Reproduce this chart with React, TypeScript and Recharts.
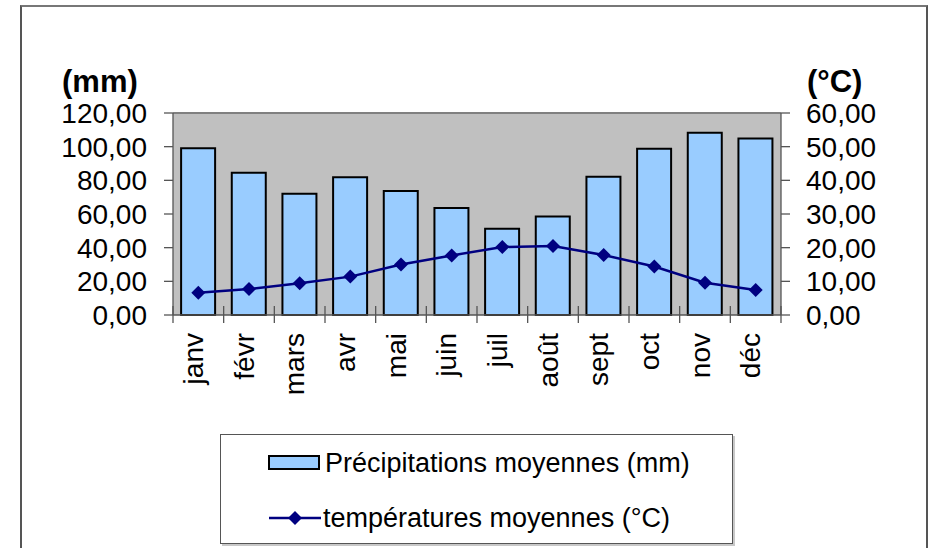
import { ComposedChart, Bar, Line, XAxis, YAxis, CartesianGrid, ReferenceLine } from 'recharts';

const months = ['janv', 'févr', 'mars', 'avr', 'mai', 'juin', 'juil', 'août', 'sept', 'oct', 'nov', 'déc'];
const precipitations = [99, 84.5, 72, 81.8, 73.7, 63.6, 51.3, 58.5, 82.2, 98.8, 108.3, 104.8];
const temperatures = [6.6, 7.7, 9.4, 11.4, 15.0, 17.7, 20.2, 20.5, 17.8, 14.4, 9.6, 7.4];
const mmTicks = [0, 20, 40, 60, 80, 100, 120];
const degTicks = [0, 10, 20, 30, 40, 50, 60];

const data = months.map((m, i) => ({ month: m, precip: precipitations[i], temp: temperatures[i] }));

const W = 928;
const H = 548;
const margin = { top: 113, right: 7, bottom: 133, left: 13 };
const leftAxisW = 160;
const rightAxisW = 140;
const plotW = W - margin.left - margin.right - leftAxisW - rightAxisW;
const band = plotW / months.length;

const FONT = '"Liberation Sans", Arial, sans-serif';
const fmt = (v: number) => v.toFixed(2).replace('.', ',');

const Diamond = (props: any) => {
  const { cx, cy } = props;
  if (cx == null || cy == null) return null;
  const r = 7;
  return <polygon points={`${cx},${cy - r} ${cx + r},${cy} ${cx},${cy + r} ${cx - r},${cy}`} fill="#000080" />;
};

const MonthTick = (props: any) => {
  const { x, y, payload, index } = props;
  const last = index === months.length - 1;
  const tx = x - 5;
  return (
    <g>
      <line x1={x - band / 2} x2={x - band / 2} y1={y - 9} y2={y + 8} stroke="#555" strokeWidth={1.3} />
      {last && <line x1={x + band / 2} x2={x + band / 2} y1={y - 9} y2={y + 8} stroke="#555" strokeWidth={1.3} />}
      <text
        x={tx}
        y={y + 18}
        transform={`rotate(-90, ${tx}, ${y + 18})`}
        textAnchor="end"
        dominantBaseline="central"
        fontSize={28}
        fontFamily={FONT}
        fill="#000"
      >
        {payload.value}
      </text>
    </g>
  );
};

export default function App() {
  return (
    <div style={{ position: 'absolute', left: 0, top: 0, width: W, height: H, overflow: 'hidden', background: '#fff', fontFamily: FONT }}>
      <div style={{ position: 'absolute', left: 20, top: 5, width: 904, height: 600, borderLeft: '2px solid #555', borderRight: '2px solid #555', borderTop: '2px solid #777' }} />
      <div style={{ position: 'absolute', left: 0, top: 0 }}>
        <ComposedChart width={W} height={H} data={data} margin={margin} barCategoryGap="16%">
          <CartesianGrid yAxisId="mm" fill="#C0C0C0" stroke="none" horizontal={false} vertical={false} />
          <XAxis dataKey="month" height={100} tickSize={0} tickMargin={0} tickLine={false} axisLine={{ stroke: '#555', strokeWidth: 1.3 }} tick={<MonthTick />} interval={0} />
          <YAxis
            yAxisId="mm"
            orientation="left"
            width={leftAxisW}
            domain={[0, 120]}
            ticks={mmTicks}
            interval={0}
            tickFormatter={fmt}
            tickSize={9}
            tickMargin={17}
            tickLine={{ stroke: '#555', strokeWidth: 1.3 }}
            axisLine={{ stroke: '#555', strokeWidth: 1.3 }}
            tick={{ fill: '#000', fontSize: 28, fontFamily: FONT }}
          />
          <YAxis
            yAxisId="deg"
            orientation="right"
            width={rightAxisW}
            domain={[0, 60]}
            ticks={degTicks}
            interval={0}
            tickFormatter={fmt}
            tickSize={9}
            tickMargin={16}
            tickLine={{ stroke: '#555', strokeWidth: 1.3 }}
            axisLine={{ stroke: '#555', strokeWidth: 1.3 }}
            tick={{ fill: '#000', fontSize: 28, fontFamily: FONT, textAnchor: 'start' }}
          />
          <ReferenceLine yAxisId="mm" y={120} stroke="#808080" strokeWidth={2} />
          <Bar yAxisId="mm" dataKey="precip" fill="#99CCFF" stroke="#000" strokeWidth={2} isAnimationActive={false} />
          <Line yAxisId="deg" type="linear" dataKey="temp" stroke="#000080" strokeWidth={2.5} dot={<Diamond />} activeDot={false} isAnimationActive={false} />
        </ComposedChart>
      </div>
      <div style={{ position: 'absolute', left: 62, top: 67, fontSize: 31, fontWeight: 'bold', lineHeight: '30px' }}>(mm)</div>
      <div style={{ position: 'absolute', left: 807, top: 67, fontSize: 31, fontWeight: 'bold', lineHeight: '30px' }}>(°C)</div>
      <div style={{ position: 'absolute', left: 220, top: 434, width: 511, height: 108, border: '1px solid #555', boxShadow: '2px 2px 0 #c8c8c8', background: '#fff' }}>
        <div style={{ position: 'absolute', left: 47, top: 20, width: 48, height: 11, background: '#99CCFF', border: '2px solid #000' }} />
        <div style={{ position: 'absolute', left: 104, top: 10, fontSize: 27, lineHeight: '36px', whiteSpace: 'nowrap' }}>Précipitations moyennes (mm)</div>
        <svg style={{ position: 'absolute', left: 46, top: 73 }} width={56} height={20}>
          <line x1={2} x2={54} y1={10} y2={10} stroke="#000080" strokeWidth={2.5} />
          <polygon points="28,3 35,10 28,17 21,10" fill="#000080" />
        </svg>
        <div style={{ position: 'absolute', left: 102, top: 65, fontSize: 27, lineHeight: '36px', whiteSpace: 'nowrap' }}>températures moyennes (°C)</div>
      </div>
    </div>
  );
}
